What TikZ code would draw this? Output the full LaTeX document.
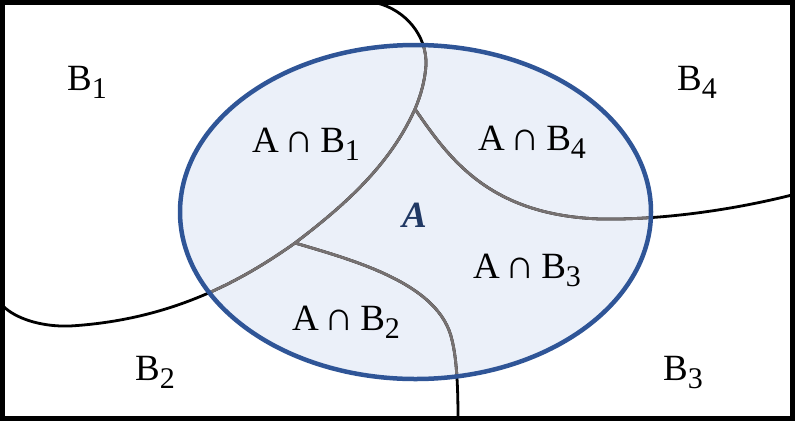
\documentclass[tikz,border=0pt]{standalone}
\usepackage{fontspec}
\setmainfont{Liberation Serif}
\definecolor{ellblue}{HTML}{2F5597}
\definecolor{ellfill}{HTML}{EBF0F9}
\definecolor{abold}{HTML}{203864}
\definecolor{curvegray}{HTML}{767171}
\newcommand\lowsub[1]{\raisebox{-8pt}{\fontsize{30}{30}\selectfont #1}}
\newcommand\capsp{\hspace{6pt}\scalebox{1.1}{∩}\hspace{6pt}}
\begin{document}
\begin{tikzpicture}[x=1pt,y=-1pt,
  lbl/.style={anchor=base west, inner sep=0pt, font=\fontsize{37}{37}\selectfont},
  bcurve/.style={line width=2.8pt, black},
  gcurve/.style={line width=2.8pt, curvegray}]
\useasboundingbox (0,0) rectangle (795,421);
\coordinate (j1) at (415,109);
\coordinate (j2) at (295,243);
\coordinate (t1) at (377,3);
\coordinate (l1) at (3,306);
\coordinate (r1) at (792,195);
\coordinate (d1) at (458,419);
\def\curveA{(t1) .. controls (405,10) and (427,35) .. (426,65) .. controls (425,80) and (421,95) .. (j1) .. controls (390,165) and (345,205) .. (j2) .. controls (240,282) and (170,320) .. (70,326) .. controls (40,327) and (15,318) .. (l1)}
\def\curveB{(j1) .. controls (450,160) and (490,215) .. (600,219) .. controls (650,220) and (720,213) .. (r1)}
\def\curveC{(j2) .. controls (360,262) and (440,285) .. (452,340) .. controls (457,360) and (458,390) .. (d1)}
\fill[ellfill] (415.5,212) ellipse [x radius=235.5, y radius=167];
\draw[bcurve] \curveA;
\draw[bcurve] \curveB;
\draw[bcurve] \curveC;
\begin{scope}
  \clip (415.5,212) ellipse [x radius=235.5, y radius=167];
  \draw[gcurve] \curveA;
  \draw[gcurve] \curveB;
  \draw[gcurve] \curveC;
\end{scope}
\draw[ellblue, line width=4.5pt] (415.5,212) ellipse [x radius=235.5, y radius=167];
\draw[line width=5pt] (2.5,2.5) rectangle (792.5,418.5);
\node[lbl] (b1) at (67,90) {B\lowsub{1}};
\node[lbl] (b2) at (135,380) {B\lowsub{2}};
\node[lbl] (b4) at (677,90) {B\lowsub{4}};
\node[lbl] (b3) at (663,380) {B\lowsub{3}};
\node[lbl] (ab1) at (252,152) {A\capsp B\lowsub{1}};
\node[lbl] (ab4) at (478,150) {A\capsp B\lowsub{4}};
\node[lbl] (ab3) at (473,278) {A\capsp B\lowsub{3}};
\node[lbl] (ab2) at (292,330) {A\capsp B\lowsub{2}};
\node[lbl, text=abold, font=\fontsize{37}{37}\selectfont\bfseries\itshape] (a) at (402,227) {A};
\end{tikzpicture}
\end{document}
